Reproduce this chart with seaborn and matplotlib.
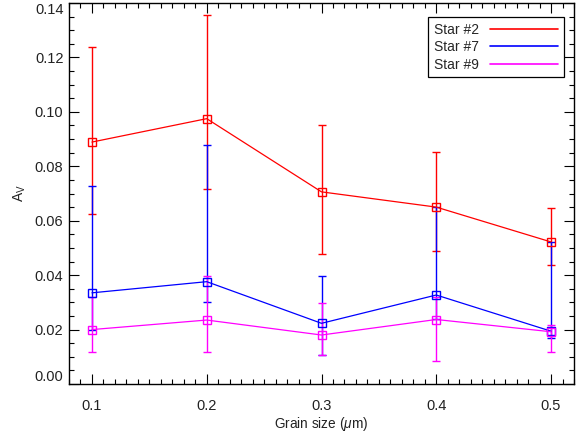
import matplotlib
matplotlib.use("Agg")
import matplotlib.pyplot as plt
from matplotlib.lines import Line2D
from matplotlib.ticker import MultipleLocator, FormatStrFormatter
import seaborn as sns
import numpy as np

grain_size = [0.1, 0.2, 0.3, 0.4, 0.5]
series_names = ["Star #2", "Star #7", "Star #9"]
series_colors = ["#ff0000", "#0000ff", "#ff00ff"]

star2 = [0.0889, 0.0975, 0.0706, 0.0650, 0.0522]
star2_lo = [0.0626, 0.0716, 0.0478, 0.0487, 0.0439]
star2_hi = [0.1240, 0.1355, 0.0950, 0.0851, 0.0647]

star7 = [0.0335, 0.0376, 0.0223, 0.0327, 0.0194]
star7_lo = [0.0200, 0.0300, 0.0106, 0.0240, 0.0170]
star7_hi = [0.0727, 0.0877, 0.0397, 0.0650, 0.0522]

star9 = [0.0200, 0.0235, 0.0180, 0.0237, 0.0192]
star9_lo = [0.0119, 0.0117, 0.0106, 0.0084, 0.0116]
star9_hi = [0.0320, 0.0397, 0.0298, 0.0320, 0.0215]

series = [(star2, star2_lo, star2_hi), (star7, star7_lo, star7_hi), (star9, star9_lo, star9_hi)]

sns.set_style("ticks")
plt.rcParams["font.family"] = ["Liberation Sans", "DejaVu Sans"]
plt.rcParams["mathtext.fontset"] = "custom"
plt.rcParams["mathtext.rm"] = "Liberation Sans"
plt.rcParams["mathtext.it"] = "Liberation Sans:italic"

fig = plt.figure(figsize=(5.84, 4.36), dpi=100)
ax = fig.add_axes([69/584, 1-384/436, (574-69)/584, (384-3)/436])

for (vals, lo, hi), c in zip(series, series_colors):
    v = np.array(vals)
    yerr = [v - np.array(lo), np.array(hi) - v]
    ax.errorbar(grain_size, v, yerr=yerr, fmt="none", ecolor=c, elinewidth=1.0,
                capsize=3.0, capthick=1.0, zorder=2)
    sns.lineplot(x=grain_size, y=vals, color=c, marker="s", markersize=6,
                 markerfacecolor="none", markeredgecolor=c, markeredgewidth=1.0,
                 linewidth=0.9, ax=ax, zorder=3)

ax.set_xlim(0.08, 0.52)
ax.set_ylim(0.0, 0.14)
ax.xaxis.set_major_locator(MultipleLocator(0.1))
ax.xaxis.set_minor_locator(MultipleLocator(0.01))
ax.yaxis.set_major_locator(MultipleLocator(0.02))
ax.yaxis.set_minor_locator(MultipleLocator(0.005))
ax.xaxis.set_major_formatter(FormatStrFormatter("%.1f"))
ax.yaxis.set_major_formatter(FormatStrFormatter("%.2f"))

ax.tick_params(which="both", direction="in", top=True, right=True, colors="black",
               labelsize=10.5, width=0.8)
ax.tick_params(which="major", length=7)
ax.tick_params(which="minor", length=3.5)
ax.tick_params(axis="x", which="major", pad=11)
ax.tick_params(axis="y", which="major", pad=4)
ax.tick_params(labelcolor="#222222")
for s in ax.spines.values():
    s.set_visible(True)
    s.set_linewidth(1.0)
    s.set_color("black")

ax.set_xlabel(r"Grain size ($\mu$m)", fontsize=9.8, labelpad=1, color="#222222")
ax.set_ylabel(r"A$_\mathregular{V}$", fontsize=10, labelpad=5, color="#222222")

fig.canvas.draw()
ylabels = ax.get_yticklabels()
for t in ylabels:
    txt = t.get_text()
    if txt == "0.14":
        t.set_va("top")
    elif txt == "0.00":
        t.set_va("bottom")

handles = [Line2D([], [], color=c, linewidth=1.2) for c in series_colors]
leg = ax.legend(handles, series_names, loc="upper right", bbox_to_anchor=(0.980, 0.963),
                borderaxespad=0, markerfirst=False, handlelength=4.9, handletextpad=0.8,
                labelspacing=0.25, fontsize=10, frameon=True, fancybox=False,
                borderpad=0.4)
leg.get_frame().set_edgecolor("black")
leg.get_frame().set_linewidth(0.9)
leg.get_frame().set_alpha(1)

fig.savefig("out.png", dpi=100)
